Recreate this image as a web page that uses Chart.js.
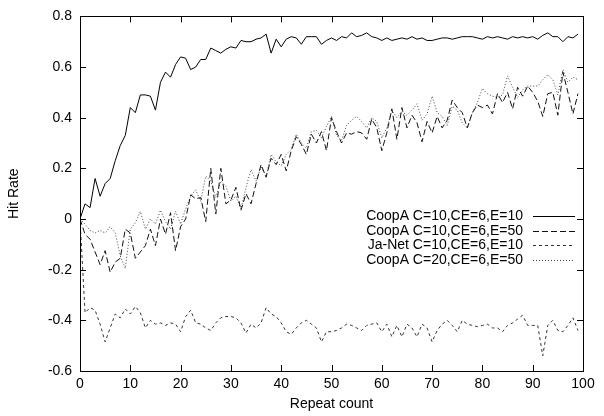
<!DOCTYPE html>
<html>
<head>
<meta charset="utf-8">
<script src="https://cdn.jsdelivr.net/npm/chart.js@4/dist/chart.umd.min.js"></script>
<style>
  html, body { margin: 0; padding: 0; background: #fff; }
  canvas { display: block; }
</style>
</head>
<body>
<canvas id="myChart" width="604" height="416"></canvas>
<script>
const repeatCounts = [0,1,2,3,4,5,6,7,8,9,10,11,12,13,14,15,16,17,18,19,
    20,21,22,23,24,25,26,27,28,29,30,31,32,33,34,35,36,37,38,39,
    40,41,42,43,44,45,46,47,48,49,50,51,52,53,54,55,56,57,58,59,
    60,61,62,63,64,65,66,67,68,69,70,71,72,73,74,75,76,77,78,79,
    80,81,82,83,84,85,86,87,88,89,90,91,92,93,94,95,96,97,98,99];

// CoopA C=10,CE=6,E=10
const coopA10_10 = [0,0.06,0.045,0.16,0.09,0.14,0.16,0.23,0.29,0.33,
    0.44,0.42,0.49,0.49,0.485,0.43,0.54,0.58,0.56,0.61,
    0.64,0.635,0.59,0.60,0.63,0.63,0.675,0.665,0.655,0.67,
    0.68,0.675,0.705,0.70,0.70,0.71,0.715,0.73,0.655,0.71,
    0.68,0.71,0.72,0.715,0.69,0.72,0.72,0.72,0.69,0.705,
    0.715,0.705,0.72,0.715,0.735,0.72,0.725,0.735,0.72,0.715,
    0.705,0.715,0.705,0.71,0.715,0.71,0.72,0.71,0.715,0.705,
    0.705,0.71,0.715,0.715,0.71,0.715,0.72,0.72,0.72,0.715,
    0.71,0.72,0.715,0.72,0.715,0.71,0.72,0.715,0.72,0.715,
    0.72,0.71,0.725,0.735,0.72,0.72,0.70,0.72,0.715,0.73];

// CoopA C=10,CE=6,E=50
const coopA10_50 = [0,-0.06,-0.08,-0.13,-0.18,-0.125,-0.21,-0.17,-0.155,-0.04,
    -0.055,-0.155,-0.13,-0.105,-0.04,-0.105,0.0,-0.06,0.025,-0.125,
    -0.03,0.0,0.095,0.08,0.085,-0.01,0.2,0.02,0.2,0.06,
    0.075,0.125,0.035,0.1,0.06,0.14,0.215,0.165,0.24,0.215,
    0.255,0.19,0.27,0.325,0.295,0.255,0.335,0.30,0.345,0.27,
    0.40,0.345,0.30,0.34,0.335,0.345,0.34,0.315,0.395,0.36,
    0.27,0.34,0.435,0.315,0.44,0.36,0.41,0.38,0.305,0.385,
    0.34,0.405,0.36,0.39,0.47,0.44,0.42,0.36,0.42,0.45,
    0.44,0.45,0.415,0.495,0.46,0.50,0.435,0.52,0.485,0.525,
    0.50,0.465,0.405,0.495,0.50,0.41,0.58,0.50,0.415,0.495];

// Ja-Net C=10,CE=6,E=10
const jaNet = [0,-0.37,-0.35,-0.36,-0.415,-0.485,-0.43,-0.375,-0.39,-0.355,
    -0.375,-0.345,-0.37,-0.43,-0.40,-0.415,-0.41,-0.42,-0.41,-0.415,
    -0.445,-0.385,-0.36,-0.41,-0.415,-0.43,-0.44,-0.41,-0.39,-0.385,
    -0.385,-0.39,-0.41,-0.45,-0.415,-0.43,-0.41,-0.35,-0.375,-0.385,
    -0.41,-0.445,-0.455,-0.43,-0.41,-0.40,-0.415,-0.43,-0.485,-0.445,
    -0.445,-0.44,-0.43,-0.415,-0.42,-0.43,-0.44,-0.42,-0.415,-0.41,
    -0.445,-0.415,-0.465,-0.42,-0.465,-0.415,-0.43,-0.465,-0.415,-0.43,
    -0.485,-0.44,-0.415,-0.40,-0.42,-0.445,-0.40,-0.415,-0.42,-0.425,
    -0.42,-0.415,-0.43,-0.43,-0.445,-0.42,-0.41,-0.395,-0.38,-0.42,
    -0.42,-0.42,-0.54,-0.42,-0.40,-0.44,-0.445,-0.42,-0.39,-0.44];

// CoopA C=20,CE=6,E=50
const coopA20_50 = [0,-0.02,-0.045,-0.055,-0.045,-0.055,-0.03,-0.055,-0.145,-0.195,
    -0.04,-0.015,0.03,-0.04,0.0,-0.02,0.035,-0.01,-0.04,0.03,
    -0.02,0.04,0.09,0.115,0.07,0.17,0.15,0.085,0.15,0.13,
    0.07,0.09,0.04,0.125,0.195,0.15,0.205,0.17,0.255,0.225,
    0.21,0.255,0.275,0.335,0.30,0.28,0.345,0.35,0.32,0.365,
    0.405,0.33,0.31,0.37,0.39,0.405,0.385,0.36,0.40,0.385,
    0.32,0.36,0.43,0.40,0.425,0.41,0.43,0.455,0.39,0.415,
    0.485,0.42,0.405,0.37,0.445,0.43,0.38,0.36,0.42,0.46,
    0.515,0.495,0.485,0.48,0.49,0.565,0.52,0.48,0.51,0.525,
    0.525,0.525,0.55,0.57,0.55,0.49,0.59,0.54,0.56,0.55];

const seriesLabels = ['CoopA C=10,CE=6,E=10', 'CoopA C=10,CE=6,E=50',
    'Ja-Net C=10,CE=6,E=10', 'CoopA C=20,CE=6,E=50'];

const fontFamily = "'Liberation Sans', Arial, Helvetica, sans-serif";
Chart.defaults.font.family = fontFamily;
Chart.defaults.font.size = 14;
Chart.defaults.color = '#000';

function points(ys) {
    return ys.map((y, i) => ({x: repeatCounts[i], y: y}));
}

function line(label, ys, color, dash) {
    return {
        label: label,
        data: points(ys),
        borderColor: color,
        backgroundColor: 'transparent',
        borderWidth: 1,
        borderDash: dash,
        pointRadius: 0,
        tension: 0
    };
}

// frame + inward ticks on all four sides, like gnuplot
const framePlugin = {
    id: 'frame',
    afterDatasetsDraw(chart) {
        const ctx = chart.ctx;
        const a = chart.chartArea;
        const xs = chart.scales.x, ys = chart.scales.y;
        ctx.save();
        ctx.strokeStyle = '#000';
        ctx.lineWidth = 1;
        ctx.setLineDash([]);
        ctx.strokeRect(Math.round(a.left) + 0.5, Math.round(a.top) + 0.5,
            Math.round(a.right - a.left), Math.round(a.bottom - a.top));
        ctx.beginPath();
        xs.ticks.forEach(t => {
            const px = Math.round(xs.getPixelForValue(t.value)) + 0.5;
            ctx.moveTo(px, a.bottom); ctx.lineTo(px, a.bottom - 6);
            ctx.moveTo(px, a.top); ctx.lineTo(px, a.top + 6);
        });
        ys.ticks.forEach(t => {
            const py = Math.round(ys.getPixelForValue(t.value)) + 0.5;
            ctx.moveTo(a.left, py); ctx.lineTo(a.left + 6, py);
            ctx.moveTo(a.right, py); ctx.lineTo(a.right - 6, py);
        });
        ctx.stroke();

        // key, text right aligned with the line sample after it
        ctx.font = '14px ' + fontFamily;
        ctx.textAlign = 'right';
        ctx.textBaseline = 'middle';
        ctx.fillStyle = '#000';
        chart.data.datasets.forEach((ds, i) => {
            const y = 216 + i * 14.7;
            ctx.fillText(ds.label, 523, y);
            ctx.strokeStyle = ds.borderColor;
            ctx.setLineDash(ds.borderDash || []);
            ctx.beginPath();
            ctx.moveTo(533, Math.round(y) + 0.5);
            ctx.lineTo(575, Math.round(y) + 0.5);
            ctx.stroke();
        });
        ctx.restore();
    }
};

var ctx = document.getElementById('myChart').getContext('2d');

new Chart(ctx, {
    type: 'line',
    data: {
        datasets: [
            line(seriesLabels[0], coopA10_10, '#000', []),
            line(seriesLabels[1], coopA10_50, '#111', [6, 3]),
            line(seriesLabels[2], jaNet, '#333', [3, 3]),
            line(seriesLabels[3], coopA20_50, '#444', [1, 2])
        ]
    },
    options: {
        responsive: false,
        animation: false,
        layout: { padding: { top: 9, right: 21, left: 0, bottom: 0 } },
        plugins: { legend: { display: false }, tooltip: { enabled: false } },
        scales: {
            x: {
                type: 'linear',
                min: 0, max: 100,
                grid: { display: false, drawTicks: false },
                border: { display: false },
                ticks: { stepSize: 10, padding: 5, maxRotation: 0 },
                title: { display: true, text: 'Repeat count', padding: { top: 0, bottom: 3 } },
                afterFit(s) { s.height = 45; }
            },
            y: {
                min: -0.6, max: 0.8,
                grid: { display: false, drawTicks: false },
                border: { display: false },
                ticks: {
                    stepSize: 0.2, padding: 8,
                    callback: v => String(Math.round(v * 10) / 10)
                },
                title: { display: true, text: 'Hit Rate', padding: { top: 6, bottom: 0 } },
                afterFit(s) { s.width = 80; }
            }
        }
    },
    plugins: [framePlugin]
});
</script>
</body>
</html>
